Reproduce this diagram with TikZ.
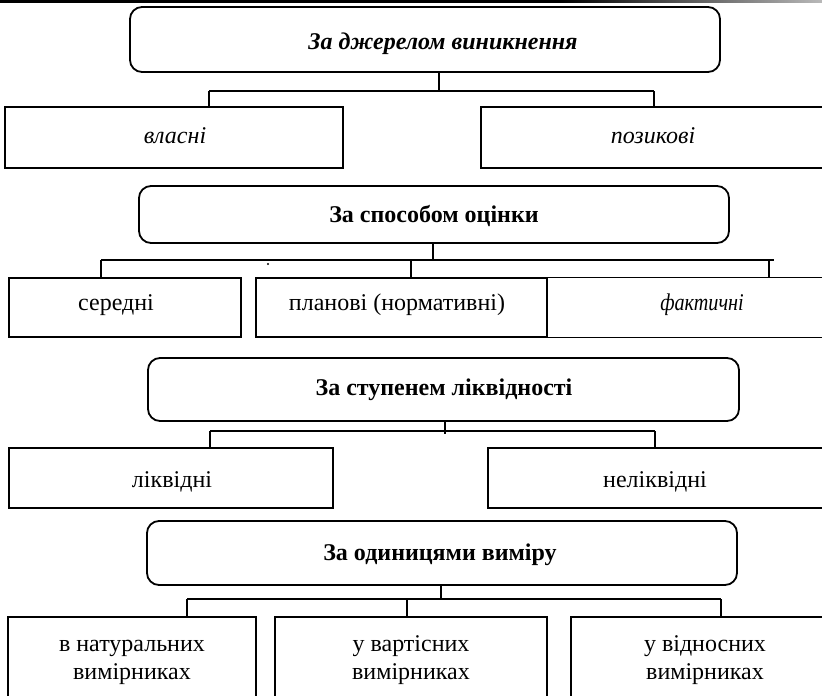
\documentclass[tikz,border=0pt]{standalone}
\usepackage{fontspec}
\usepackage{graphicx}
\setmainfont{Liberation Serif}
\begin{document}
\begin{tikzpicture}[x=1pt,y=-1pt,
  rbox/.style={draw, line width=1.8pt, rounded corners=12pt, inner sep=0pt},
  sbox/.style={draw, line width=1.8pt, inner sep=0pt},
  tbox/.style={draw, line width=1pt, inner sep=0pt},
  lbl/.style={font=\fontsize{24}{28}\selectfont, inner sep=0pt, anchor=base, align=center},
  ttl/.style={lbl, font=\fontsize{24}{25}\selectfont\bfseries},
  conn/.style={line width=1.5pt}]
\useasboundingbox (0,0) rectangle (822,696);
\clip (0,0) rectangle (822,696);
% top rule
\shade[left color=black, right color=black] (0,0) rectangle (560,2.4);
\shade[left color=black, right color=gray!55] (560,0) rectangle (822,2.4);

% group 1
\node[rbox, minimum width=590, minimum height=65] (b1) at (425,39.5) {};
\node[ttl, font=\fontsize{24}{25}\selectfont\bfseries\itshape] (t1) at (443,49) {За джерелом виникнення};
\node[sbox, minimum width=338, minimum height=61] (c11) at (174,137.5) {};
\node[sbox, minimum width=359, minimum height=61] (c12) at (660.5,137.5) {};
\node[lbl, font=\fontsize{24}{25}\selectfont\itshape] (t11) at (175,143) {власні};
\node[lbl, font=\fontsize{24}{25}\selectfont\itshape] (t12) at (653,143) {позикові};
\coordinate (j1) at (439,91);
\coordinate (j1a) at (209,91);
\coordinate (j1b) at (654,91);
\draw[conn] (j1 |- b1.south) -- (j1);
\draw[conn] (j1a) -- (j1b);
\draw[conn] (j1a) -- (j1a |- c11.north);
\draw[conn] (j1b) -- (j1b |- c12.north);

% group 2
\node[rbox, minimum width=590, minimum height=57] (b2) at (434,214.5) {};
\node[ttl] (t2) at (434,222) {За способом оцінки};
\node[sbox, minimum width=232, minimum height=59] (c21) at (125,307.5) {};
\node[sbox, minimum width=291, minimum height=59] (c22) at (401.5,307.5) {};
\node[tbox, minimum width=293, minimum height=60] (c23) at (693.5,307.5) {};
\node[lbl] (t21) at (116,310) {середні};
\node[lbl] (t22) at (397,310) {планові (нормативні)};
\node[lbl, font=\fontsize{24}{25}\selectfont\itshape] (t23) at (702,310) {\scalebox{0.84}[1]{фактичні}};
\coordinate (j2) at (433,260);
\coordinate (j2a) at (101,260);
\coordinate (j2b) at (774,260);
\coordinate (j2m) at (411,260);
\coordinate (j2c) at (769,260);
\draw[conn] (j2 |- b2.south) -- (j2);
\draw[conn] (j2a) -- (j2b);
\draw[conn] (j2a) -- (j2a |- c21.north);
\draw[conn] (j2m) -- (j2m |- c22.north);
\draw[conn] (j2c) -- (j2c |- c23.north);
\fill (268,264) circle (1.2);

% group 3
\node[rbox, minimum width=591, minimum height=63] (b3) at (443.5,389.5) {};
\node[ttl] (t3) at (444,395) {За ступенем ліквідності};
\node[sbox, minimum width=324, minimum height=60] (c31) at (171,478) {};
\node[sbox, minimum width=352, minimum height=60] (c32) at (664,478) {};
\node[lbl] (t31) at (172,487) {ліквідні};
\node[lbl] (t32) at (655,487) {неліквідні};
\coordinate (j3) at (445,431);
\coordinate (j3a) at (210,431);
\coordinate (j3b) at (655,431);
\draw[conn] (j3 |- b3.south) -- (445,434);
\draw[conn] (j3a) -- (j3b);
\draw[conn] (j3a) -- (j3a |- c31.north);
\draw[conn] (j3b) -- (j3b |- c32.north);

% group 4
\node[rbox, minimum width=590, minimum height=64] (b4) at (442,553) {};
\node[ttl] (t4) at (440,560) {За одиницями виміру};
\node[sbox, minimum width=248, minimum height=103] (c41) at (132,668.5) {};
\node[sbox, minimum width=272, minimum height=103] (c42) at (411,668.5) {};
\node[sbox, minimum width=269, minimum height=103] (c43) at (705.5,668.5) {};
\node[lbl] (t41) at (132,679) {в натуральних\\вимірниках};
\node[lbl] (t42) at (411,679) {у вартісних\\вимірниках};
\node[lbl] (t43) at (705,679) {у відносних\\вимірниках};
\coordinate (j4) at (441,600);
\coordinate (j4a) at (187,599);
\coordinate (j4b) at (721,599);
\coordinate (j4m) at (407,599);
\draw[conn] (j4 |- b4.south) -- (j4);
\draw[conn] (j4a) -- (j4b);
\draw[conn] (j4a) -- (j4a |- c41.north);
\draw[conn] (j4m) -- (j4m |- c42.north);
\draw[conn] (j4b) -- (j4b |- c43.north);
\end{tikzpicture}
\end{document}
